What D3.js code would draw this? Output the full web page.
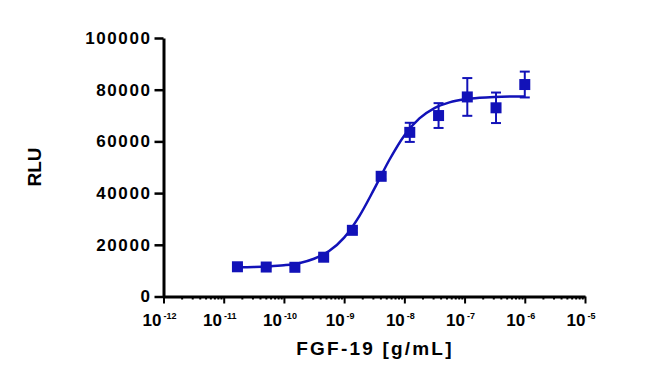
<!DOCTYPE html>
<html>
<head>
<meta charset="utf-8">
<script src="https://cdn.jsdelivr.net/npm/d3@7"></script>
<style>
  body { margin: 0; background: #fff; }
  text { font-family: "Liberation Sans", Arial, sans-serif; font-weight: bold; }
</style>
</head>
<body>
<div id="container"></div>
<script>
// measured points: concentration (g/mL), mean RLU, error (SD)
const conc = [1.69e-11, 5.08e-11, 1.52e-10, 4.57e-10, 1.37e-9, 4.12e-9, 1.23e-8, 3.70e-8, 1.11e-7, 3.33e-7, 1.0e-6];
const rlu  = [11500, 11400, 11300, 15200, 25600, 46500, 63500, 70000, 77200, 73000, 82000];
const err  = [600, 500, 500, 700, 900, 1200, 3700, 4800, 7300, 5900, 5000];

// fitted curve: log10 conc, RLU
const fitLogX = [-10.77, -10.5, -10.25, -10.0, -9.75, -9.5, -9.25, -9.0, -8.75, -8.5, -8.25, -8.0, -7.75, -7.5, -7.25, -7.0, -6.75, -6.5, -6.25, -6.0];
const fitY    = [11300, 11400, 11650, 12100, 12900, 14600, 17600, 22800, 31000, 41600, 52800, 62300, 68900, 72900, 75100, 76300, 76900, 77200, 77350, 77400];

const xTickExp = [-12, -11, -10, -9, -8, -7, -6, -5];
const yTicks = [0, 20000, 40000, 60000, 80000, 100000];

const width = 650, height = 378;
const plotLeft = 163.5, plotRight = 585, plotTop = 38, plotBottom = 296.5;
const blue = "#1212b8";

const svg = d3.select("#container").append("svg")
    .attr("width", width)
    .attr("height", height);

const x = d3.scaleLog().domain([1e-12, 1e-5]).range([plotLeft, plotRight]);
const y = d3.scaleLinear().domain([0, 100000]).range([plotBottom, plotTop]);

// minor ticks on x axis
const minor = [];
xTickExp.slice(0, -1).forEach(e => {
    for (let k = 2; k <= 9; k++) minor.push(k * Math.pow(10, e));
});

const xMinor = svg.append("g")
    .attr("transform", `translate(0,${plotBottom})`)
    .call(d3.axisBottom(x).tickValues(minor).tickSize(3).tickFormat("").tickSizeOuter(0));
xMinor.select(".domain").remove();
xMinor.selectAll("line").attr("stroke-width", 2);

const xAxis = svg.append("g")
    .attr("transform", `translate(0,${plotBottom})`)
    .call(d3.axisBottom(x).tickValues(xTickExp.map(e => Math.pow(10, e))).tickSize(7).tickFormat("").tickSizeOuter(0));
xAxis.select(".domain").attr("stroke-width", 3);
xAxis.selectAll("line").attr("stroke-width", 2);

// x tick labels with superscripts
xTickExp.forEach(e => {
    const t = svg.append("text")
        .attr("x", x(Math.pow(10, e)) - 4)
        .attr("y", 326)
        .attr("text-anchor", "middle")
        .style("font-size", "17px");
    t.append("tspan").text("10");
    t.append("tspan").attr("dx", 2).attr("dy", -7).style("font-size", "9px").text(e);
});

const yAxis = svg.append("g")
    .attr("transform", `translate(${plotLeft},0)`)
    .call(d3.axisLeft(y).tickValues(yTicks).tickFormat(d3.format("d")).tickSize(9).tickPadding(3).tickSizeOuter(0));
yAxis.select(".domain").attr("stroke-width", 3);
yAxis.selectAll("line").attr("stroke-width", 2.5);
yAxis.selectAll("text")
    .attr("fill", "#000")
    .style("font-size", "17px")
    .style("letter-spacing", "1.6px")
    .style("font-family", "'Liberation Sans', Arial, sans-serif")
    .style("font-weight", "bold");

// axis titles
svg.append("text")
    .attr("transform", "translate(41,167) rotate(-90)")
    .attr("text-anchor", "middle")
    .style("font-size", "19px")
    .text("RLU");

svg.append("text")
    .attr("x", 375)
    .attr("y", 355)
    .attr("text-anchor", "middle")
    .style("font-size", "19px")
    .style("letter-spacing", "2.2px")
    .text("FGF-19 [g/mL]");

// fitted curve
const fit = fitLogX.map((lx, i) => [Math.pow(10, lx), fitY[i]]);
svg.append("path")
    .datum(fit)
    .attr("fill", "none")
    .attr("stroke", blue)
    .attr("stroke-width", 2.5)
    .attr("d", d3.line().x(d => x(d[0])).y(d => y(d[1])).curve(d3.curveMonotoneX));

// error bars
const pts = conc.map((c, i) => ({ c, v: rlu[i], e: err[i] }));
const eb = svg.append("g").attr("stroke", blue).attr("stroke-width", 2);
pts.forEach(p => {
    const cx = x(p.c);
    eb.append("line").attr("x1", cx).attr("x2", cx).attr("y1", y(p.v - p.e)).attr("y2", y(p.v + p.e));
    [p.v - p.e, p.v + p.e].forEach(v => {
        eb.append("line").attr("x1", cx - 5).attr("x2", cx + 5).attr("y1", y(v)).attr("y2", y(v));
    });
});

// square markers
const s = 11;
svg.append("g").selectAll("rect")
    .data(pts)
    .join("rect")
    .attr("x", d => x(d.c) - s / 2)
    .attr("y", d => y(d.v) - s / 2)
    .attr("width", s)
    .attr("height", s)
    .attr("fill", blue);
</script>
</body>
</html>
